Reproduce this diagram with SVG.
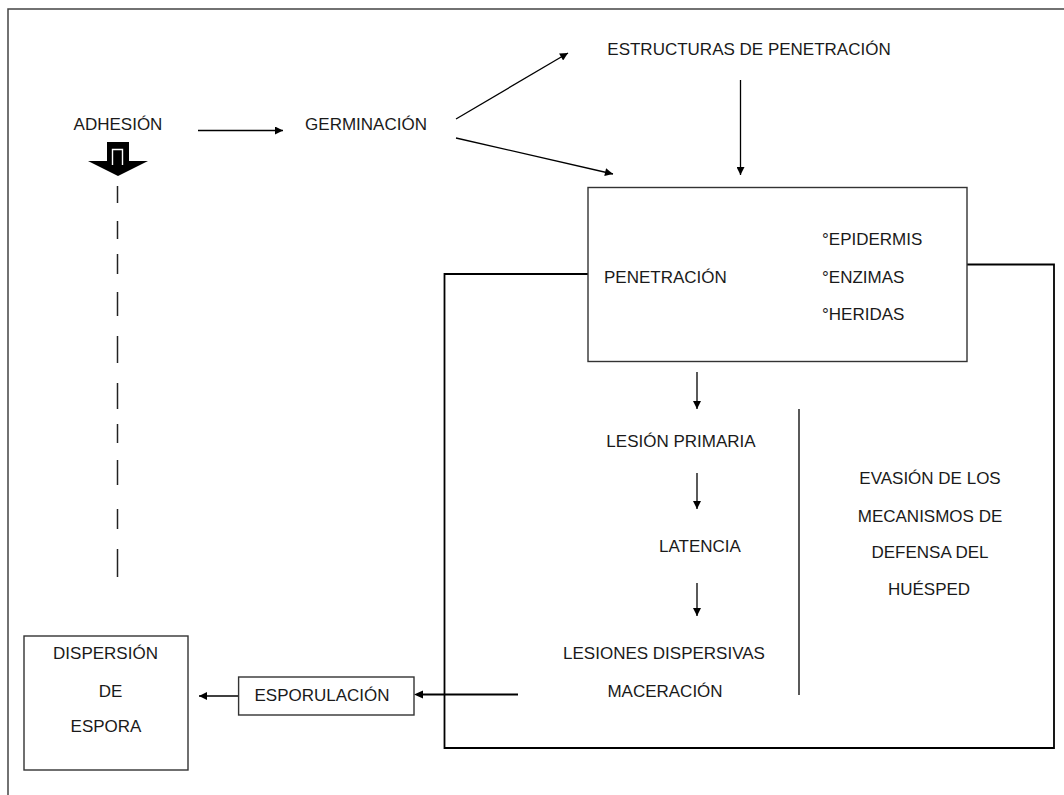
<svg xmlns="http://www.w3.org/2000/svg" width="1064" height="795" viewBox="0 0 1064 795">
<defs>
<marker id="ah" viewBox="0 0 10 10" refX="10" refY="5" markerWidth="9" markerHeight="8" markerUnits="userSpaceOnUse" orient="auto">
<path d="M0,0 L10,5 L0,10 z" fill="#000"/>
</marker>
</defs>
<style>
text{font-family:"Liberation Sans",Arial,sans-serif;font-size:17px;fill:#1a1a1a}
.c{text-anchor:middle}
.box{fill:#fff;stroke:#333;stroke-width:1.4}
.ln{stroke:#000;stroke-width:1.3;fill:none}
.arr{stroke:#000;stroke-width:1.3;fill:none;marker-end:url(#ah)}
.thick{stroke:#000;stroke-width:2.2;fill:none}
.brk{stroke:#000;stroke-width:1.8;fill:none}
</style>
<rect width="1064" height="795" fill="#fff"/>
<g id="frame">
<path d="M8,795 V9 H1064" fill="none" stroke="#444" stroke-width="1.5"/>
</g>
<g id="connectors">
<line class="arr" x1="198" y1="130.5" x2="283" y2="130.5"/>
<line class="arr" x1="456" y1="119" x2="568" y2="53"/>
<line class="arr" x1="456" y1="138" x2="613" y2="174"/>
<line class="arr" x1="740.5" y1="80" x2="740.5" y2="175"/>
<line class="arr" x1="697" y1="372" x2="697" y2="409"/>
<line class="arr" x1="697" y1="473" x2="697" y2="509"/>
<line class="arr" x1="697" y1="583" x2="697" y2="616"/>
<line class="thick" x1="518" y1="694.5" x2="422" y2="694.5"/>
<path d="M414,694.5 L423,690.5 L423,698.5 z" fill="#000"/>
<line class="arr" x1="238.6" y1="696" x2="199" y2="696"/>
<path class="brk" d="M588,274 H444.5 V748 H1054 V264.5 H967"/>
<line class="ln" x1="799" y1="409" x2="799" y2="695"/>
<g stroke="#222" stroke-width="1.5">
<line x1="117.5" y1="186" x2="117.5" y2="203"/>
<line x1="117.5" y1="221" x2="117.5" y2="239"/>
<line x1="117.5" y1="254" x2="117.5" y2="274"/>
<line x1="117.5" y1="292" x2="117.5" y2="316"/>
<line x1="117.5" y1="336" x2="117.5" y2="363"/>
<line x1="117.5" y1="383" x2="117.5" y2="409"/>
<line x1="117.5" y1="424" x2="117.5" y2="443"/>
<line x1="117.5" y1="460" x2="117.5" y2="485"/>
<line x1="117.5" y1="509" x2="117.5" y2="529"/>
<line x1="117.5" y1="549" x2="117.5" y2="577"/>
</g>
<g id="block-arrow">
<path d="M107,142 H129 V161 H148 L118,176 L88,161 H107 Z" fill="#000"/>
<path d="M112.5,165 V149.5 H122.5 V165" fill="none" stroke="#fff" stroke-width="1.4"/>
</g>
</g>
<g id="adhesion"><text class="c" x="118" y="130">ADHESIÓN</text></g>
<g id="germinacion"><text class="c" x="366" y="130">GERMINACIÓN</text></g>
<g id="estructuras"><text class="c" x="749" y="55">ESTRUCTURAS DE PENETRACIÓN</text></g>
<g id="penetracion">
<rect class="box" x="588" y="187.5" width="379" height="174"/>
<text x="604" y="283">PENETRACIÓN</text>
<text x="822" y="245">°EPIDERMIS</text>
<text x="822" y="283">°ENZIMAS</text>
<text x="822" y="320">°HERIDAS</text>
</g>
<g id="lesion-primaria"><text class="c" x="681" y="447">LESIÓN PRIMARIA</text></g>
<g id="latencia"><text class="c" x="700" y="552">LATENCIA</text></g>
<g id="lesiones">
<text class="c" x="664" y="659">LESIONES DISPERSIVAS</text>
<text class="c" x="665" y="697">MACERACIÓN</text>
</g>
<g id="evasion">
<text class="c" x="930" y="484">EVASIÓN DE LOS</text>
<text class="c" x="930" y="522">MECANISMOS DE</text>
<text class="c" x="930" y="558">DEFENSA DEL</text>
<text class="c" x="929" y="595">HUÉSPED</text>
</g>
<g id="esporulacion">
<rect class="box" x="238.6" y="677" width="175.4" height="38"/>
<text class="c" x="322" y="701">ESPORULACIÓN</text>
</g>
<g id="dispersion">
<rect class="box" x="24" y="636" width="164" height="134"/>
<text class="c" x="105.5" y="659">DISPERSIÓN</text>
<text class="c" x="110.5" y="697">DE</text>
<text class="c" x="106" y="732">ESPORA</text>
</g>
</svg>
